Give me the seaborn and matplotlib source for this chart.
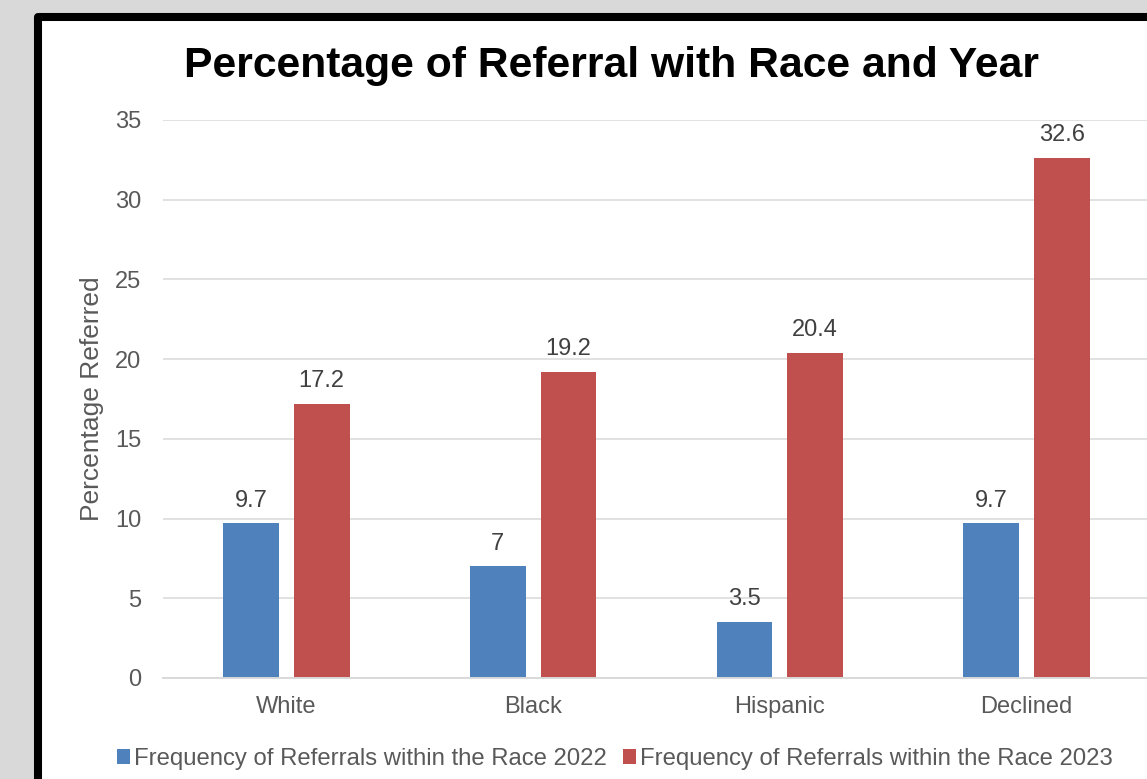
import matplotlib
matplotlib.use("Agg")
import matplotlib.pyplot as plt
from matplotlib.patches import Rectangle
import seaborn as sns
import pandas as pd

# Chart data
races = ["White", "Black", "Hispanic", "Declined"]
series_names = ["Frequency of Referrals within the Race 2022",
                "Frequency of Referrals within the Race 2023"]
values_2022 = [9.7, 7, 3.5, 9.7]
values_2023 = [17.2, 19.2, 20.4, 32.6]
y_ticks = [0, 5, 10, 15, 20, 25, 30, 35]

df = pd.DataFrame({
    "Race": races * 2,
    "Series": [series_names[0]] * len(races) + [series_names[1]] * len(races),
    "Percentage": values_2022 + values_2023,
})

sns.set_style("white")
plt.rcParams["font.family"] = ["Liberation Sans", "DejaVu Sans"]

W, H = 1147, 779
fig = plt.figure(figsize=(W / 100, H / 100), dpi=100, facecolor="#d9d9d9")

# white panel with a heavy black border, kept behind the axes
panel = Rectangle((37.5 / W, -0.05), 1.2, (1 - 16.7 / H) + 0.05,
                  transform=fig.transFigure, facecolor="white",
                  edgecolor="black", linewidth=5.8, joinstyle="round",
                  zorder=-10)
fig.patches.append(panel)

left, right = 163 / W, 1150 / W
bottom, top = 1 - 678 / H, 1 - 120 / H
ax = fig.add_axes([left, bottom, right - left, top - bottom])
ax.set_facecolor("none")
ax.set_zorder(1)

palette = {series_names[0]: "#4F81BD", series_names[1]: "#C0504D"}
sns.barplot(data=df, x="Race", y="Percentage", hue="Series", order=races,
            hue_order=series_names, palette=palette, saturation=1,
            errorbar=None, width=0.572, gap=0.21, linewidth=0, ax=ax)

for cont in ax.containers:
    ax.bar_label(cont, fmt="%g", padding=8.5, fontsize=17, color="#404040")

ax.set_xlim(-0.5, 3.5)
ax.set_ylim(0, 35)
ax.set_yticks(y_ticks)
ax.yaxis.grid(True, color="#d9d9d9", linewidth=1.1)
ax.set_axisbelow(True)
for side in ["left", "right", "top"]:
    ax.spines[side].set_visible(False)
ax.spines["bottom"].set_color("#d9d9d9")
ax.spines["bottom"].set_linewidth(1.4)

ax.tick_params(axis="both", length=0, labelsize=17, labelcolor="#595959")
ax.tick_params(axis="x", pad=13)
ax.tick_params(axis="y", pad=15.5)
ax.set_xlabel("")
ax.set_ylabel("Percentage Referred", fontsize=19, color="#595959", va="center")
ax.yaxis.set_label_coords((92 - 163) / (1150 - 163), 0.5)

fig.text(611.5 / W, 1 - 66 / H, "Percentage of Referral with Race and Year",
         ha="center", va="center", fontsize=30.7, fontweight="bold", color="black")

handles, labels = ax.get_legend_handles_labels()
ax.get_legend().remove()
fig.legend(handles, labels, loc="center", ncol=2, frameon=False,
           bbox_to_anchor=(615 / W, 1 - 759 / H), fontsize=17.2,
           labelcolor="#595959", handlelength=0.55, handleheight=0.55,
           handletextpad=0.17, columnspacing=0.68, borderaxespad=0)

fig.savefig("out.png", dpi=100, facecolor=fig.get_facecolor())
